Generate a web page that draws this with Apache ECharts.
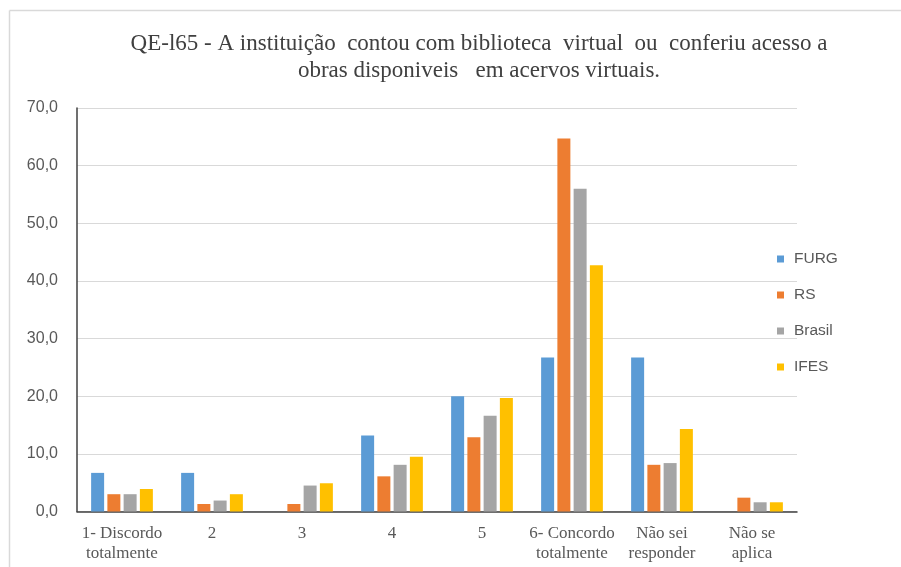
<!DOCTYPE html>
<html>
<head>
<meta charset="utf-8">
<script src="https://cdn.jsdelivr.net/npm/echarts@6/dist/echarts.min.js"></script>
<style>html,body{margin:0;padding:0;background:#fff}#c{width:901px;height:567px}</style>
</head>
<body>
<div id="c"></div>
<script>
const titleText = 'QE-l65 - A instituição  contou com biblioteca  virtual  ou  conferiu acesso a\nobras disponiveis   em acervos virtuais.';
const categories = ['1- Discordo\ntotalmente', '2', '3', '4', '5', '6- Concordo\ntotalmente', 'Não sei\nresponder', 'Não se\naplica'];
const seriesNames = ['FURG', 'RS', 'Brasil', 'IFES'];
const furg   = [6.7, 6.7, 0.0, 13.2, 20.0, 26.7, 26.7, 0.0];
const rs     = [3.0, 1.3, 1.3, 6.1, 12.9, 64.7, 8.1, 2.4];
const brasil = [3.0, 1.9, 4.5, 8.1, 16.6, 56.0, 8.4, 1.6];
const ifes   = [3.9, 3.0, 4.9, 9.5, 19.7, 42.7, 14.3, 1.6];
const yTicks = [0, 10, 20, 30, 40, 50, 60, 70];
const colors = ['#5B9BD5', '#ED7D31', '#A5A5A5', '#FFC000'];

const values = [furg, rs, brasil, ifes];
const chart = echarts.init(document.getElementById('c'), null, {renderer: 'canvas'});
chart.setOption({
  animation: false,
  backgroundColor: '#fff',
  title: {
    text: titleText,
    left: 474, top: 25, textAlign: 'center',
    textStyle: {fontFamily: 'Liberation Serif', fontSize: 23, fontWeight: 'normal', color: '#404040', lineHeight: 27}
  },
  legend: {
    orient: 'vertical', left: 777, top: 251, itemGap: 20, padding: 0,
    itemWidth: 7, itemHeight: 7, icon: 'rect',
    data: seriesNames,
    textStyle: {fontFamily: 'Liberation Sans', fontSize: 15.5, color: '#595959', padding: [0,0,0,5]}
  },
  grid: {left: 77, top: 108, width: 720, height: 403.5, containLabel: false},
  xAxis: {
    type: 'category', data: categories,
    axisLine: {lineStyle: {color: '#404040', width: 1.5}},
    axisTick: {show: false},
    axisLabel: {fontFamily: 'Liberation Serif', fontSize: 17, color: '#595959', margin: 12, lineHeight: 20, interval: 0}
  },
  yAxis: {
    type: 'value', min: yTicks[0], max: yTicks[yTicks.length-1], interval: 10,
    axisLine: {show: true, lineStyle: {color: '#404040', width: 1.5}},
    axisTick: {show: false},
    splitLine: {lineStyle: {color: '#D9D9D9', width: 1.2}},
    axisLabel: {fontFamily: 'Liberation Sans', fontSize: 16, color: '#595959', margin: 19,
      formatter: v => v.toFixed(1).replace('.', ',')}
  },
  series: seriesNames.map((n, i) => ({
    name: n, type: 'bar', data: values[i], barWidth: 13, barGap: '25%',
    itemStyle: {color: colors[i]}
  })),
  graphic: [
    {type: 'line', shape: {x1: 9.5, y1: 10.5, x2: 901, y2: 10.5}, style: {stroke: '#D9D9D9', lineWidth: 1.5}, silent: true},
    {type: 'line', shape: {x1: 9.5, y1: 10.5, x2: 9.5, y2: 567}, style: {stroke: '#D9D9D9', lineWidth: 1.5}, silent: true}
  ]
});
</script>
</body>
</html>
